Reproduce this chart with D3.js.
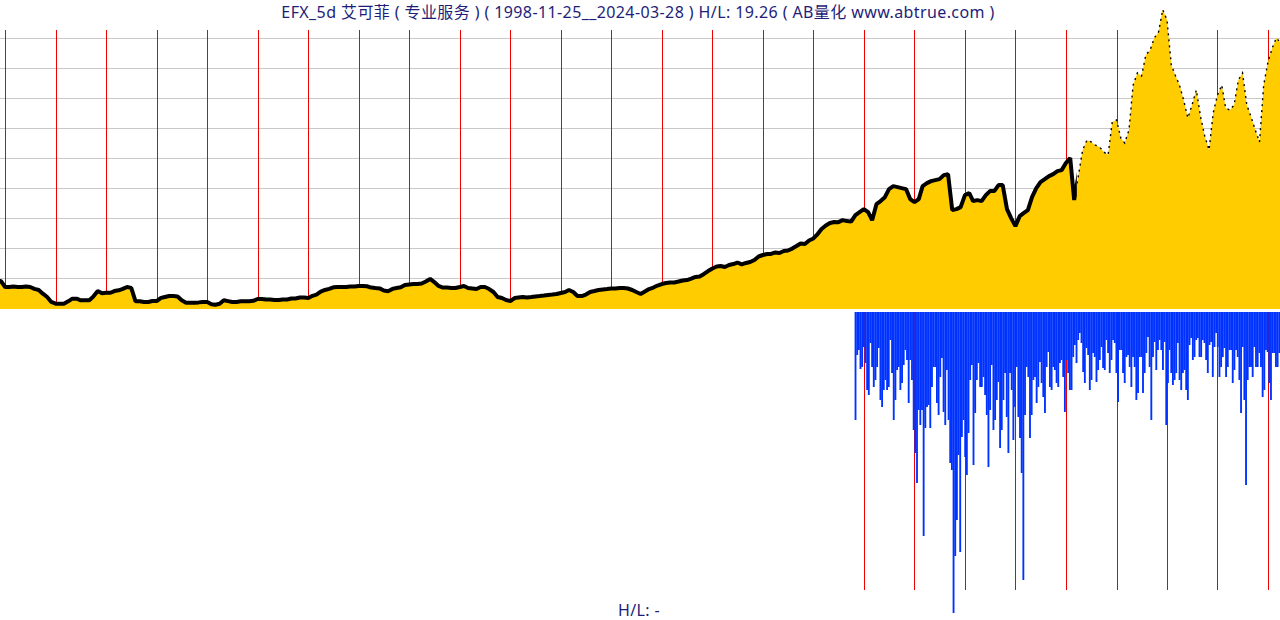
<!DOCTYPE html>
<html>
<head>
<meta charset="utf-8">
<script src="https://cdn.jsdelivr.net/npm/d3@7/dist/d3.min.js"></script>
<style>
  body { margin: 0; background: #fff; }
  svg { display: block; }
</style>
</head>
<body>
<div id="chart"></div>
<script>
// ---------- data ----------
const startDate = "1998-11-25", endDate = "2024-03-28";
const titleText = "EFX_5d 艾可菲 ( 专业服务 ) ( 1998-11-25__2024-03-28 ) H/L: 19.26 ( AB量化  www.abtrue.com )";
const priceLow = 15.5, priceHigh = 298.6;   // H/L = 19.26

// close at start, then month by month from 1998-12
const startClose = 41.0;
const close1999_2003 = [41.0, 35.3, 35.3, 35.8, 35.3, 35.3, 35.8, 35.3, 33.5, 32.5, 29.0, 25.9, 21.2, 19.6, 19.6, 19.6,
  21.8, 24.3, 24.3, 22.8, 22.8, 22.8, 26.5, 31.5, 29.5, 29.9, 29.9, 31.5, 32.2, 33.5, 35.3, 34.5, 21.8, 21.8, 21.2, 21.2,
  22.1, 22.1, 25.0, 25.9, 26.8, 26.8, 26.4, 22.8, 20.5, 20.5, 20.5, 20.8, 21.2, 21.2, 19.0, 18.6, 19.5, 22.8, 22.0, 21.2,
  21.2, 21.8, 21.8, 21.8, 22.3];
const close2004_2008 = [24.0, 24.0, 23.5, 23.5, 23.0, 23.0, 23.5, 23.5, 24.5, 24.5, 25.4, 25.4, 24.9, 27.0, 28.1, 31.0,
  32.5, 33.5, 35.0, 35.3, 35.3, 35.3, 35.8, 35.8, 36.3, 36.3, 36.0, 34.8, 34.4, 34.0, 32.0, 31.3, 33.5, 34.4, 35.0, 37.2,
  37.7, 38.1, 38.1, 38.6, 40.5, 42.9, 40.0, 36.3, 34.8, 34.8, 34.4, 34.4, 35.3, 36.3, 34.4, 33.9, 33.4, 35.3, 35.3, 33.4,
  30.6, 25.9, 24.9, 23.0];
const close2009_2013 = [22.1, 24.9, 25.4, 25.9, 25.4, 25.9, 26.4, 26.8, 27.3, 27.8, 28.2, 28.7, 29.7, 30.6, 32.5, 30.6,
  26.8, 26.8, 28.2, 30.6, 31.5, 32.5, 33.0, 33.4, 33.9, 33.9, 34.4, 34.4, 33.9, 32.5, 30.6, 28.7, 31.1, 33.4, 34.8, 36.7,
  38.1, 39.1, 39.6, 39.6, 40.5, 41.5, 41.9, 43.3, 44.8, 45.2, 47.6, 50.4, 52.8, 54.7, 55.1, 54.2, 56.1, 57.0, 58.4, 56.6,
  58.0, 58.9, 60.8, 64.1];
const close2014_2018 = [65.5, 66.5, 66.5, 67.9, 67.4, 69.3, 69.8, 71.6, 74.0, 76.4, 75.9, 79.2, 81.1, 85.3, 90.1, 93.4,
  95.7, 96.7, 96.5, 98.4, 97.5, 97.0, 103.2, 106.0, 108.8, 106.0, 98.4, 113.5, 116.4, 120.1, 127.7, 130.5, 129.6, 128.6,
  127.7, 118.3, 115.4, 118.3, 130.5, 133.3, 135.2, 136.2, 137.1, 140.9, 141.8, 107.9, 108.8, 110.7, 122.0, 123.9, 116.4,
  117.3, 116.4, 122.0, 125.8, 125.8, 131.5, 131.5, 108.8, 100.3];
const close2019_2024 = [92.8, 102.2, 105.0, 107.9, 120.1, 128.6, 134.3, 137.1, 140.0, 141.8, 144.7, 145.6, 152.3, 157.1,
  117.4, 141.0, 164.6, 174.0, 172.2, 169.3, 167.4, 162.7, 159.9, 191.0, 192.9, 175.9, 171.2, 183.5, 225.9, 237.3, 234.4,
  254.3, 259.0, 270.3, 276.0, 297.0, 287.3, 244.8, 235.4, 225.9, 211.8, 194.8, 207.1, 221.2, 195.7, 177.8, 164.6, 199.5,
  216.5, 225.9, 204.2, 202.3, 207.1, 230.7, 237.3, 207.1, 195.7, 183.5, 172.2, 225.9, 247.6, 260.9, 270.3];
const lastClose = 266.5;

// lower panel bars (depth below panel top), from late 2015 to the end
const lowerStart = "2015-10-26";
const lower2015_2019 = [108, 43, 38, 57, 55, 35, 51, 78, 83, 31, 55, 75, 68, 55, 36, 88, 95, 78, 68, 78, 75, 28, 61, 108,
  88, 58, 55, 78, 71, 53, 38, 48, 91, 48, 68, 118, 141, 171, 98, 113, 98, 224, 116, 95, 93, 116, 75, 55, 55, 91, 103, 65,
  46, 100, 113, 58, 108, 151, 158, 301, 244, 208, 143, 240, 125, 108, 145, 163, 121, 68, 53, 153, 101, 68, 51, 75, 75, 65,
  83, 103, 155, 98, 53, 118, 108, 88, 70, 136, 118, 88, 61, 105, 141, 61, 78, 128, 95, 55, 105, 126, 161, 268, 103, 55,
  65, 126, 103, 68, 65, 91, 75, 50, 71, 85, 101, 55, 40, 75, 78, 55, 58, 71, 75, 51, 48, 65];
const lower2020_2024 = [100, 48, 61, 78, 78, 45, 33, 51, 28, 21, 31, 60, 71, 36, 43, 78, 68, 41, 45, 70, 58, 48, 35, 56,
  58, 28, 41, 61, 48, 28, 31, 61, 90, 38, 38, 61, 71, 45, 43, 55, 75, 45, 55, 88, 81, 45, 45, 81, 61, 41, 25, 55, 108, 45,
  30, 58, 38, 28, 38, 58, 30, 113, 71, 38, 61, 73, 68, 61, 31, 68, 78, 61, 58, 78, 88, 33, 26, 48, 45, 28, 26, 45, 45, 28,
  31, 48, 61, 33, 30, 65, 35, 21, 35, 65, 55, 45, 36, 65, 55, 38, 38, 71, 58, 38, 45, 68, 101, 35, 88, 173, 68, 55, 55, 65,
  35, 55, 55, 41, 55, 85, 78, 38, 40, 71, 88, 41, 41, 55, 55, 41];
const lowerMax = 300;

// ---------- canvas ----------
const W = 1280, H = 620;
const svg = d3.select("#chart").append("svg")
  .attr("width", W).attr("height", H);

const parse = d3.timeParse("%Y-%m-%d");
const t0 = parse(startDate), t1 = parse(endDate);

// build the price series
const monthly = [].concat(close1999_2003, close2004_2008, close2009_2013, close2014_2018, close2019_2024);
const prices = [{date: t0, v: startClose}];
monthly.forEach((v, i) => prices.push({date: d3.timeMonth.offset(new Date(1998, 11, 1), i), v: v}));
prices.push({date: t1, v: lastClose});

const x = d3.scaleTime().domain([t0, t1]).range([0, W]);
const y = d3.scaleLinear().domain([priceLow, priceHigh]).range([308, 8]);

// grid lines (ten equal steps of the price range)
const gridVals = d3.range(1, 10).map(k => priceLow + k * (priceHigh - priceLow) / 10);
svg.append("g").selectAll("line")
  .data(gridVals).enter().append("line")
  .attr("x1", 0).attr("x2", W)
  .attr("y1", d => Math.round(y(d)) + 0.5).attr("y2", d => Math.round(y(d)) + 0.5)
  .attr("stroke", "#c8c8c8").attr("stroke-width", 1);

// year lines, top panel
const years = d3.timeYear.range(d3.timeYear.ceil(t0), t1);
svg.append("g").selectAll("line")
  .data(years).enter().append("line")
  .attr("x1", d => Math.round(x(d)) + 0.5).attr("x2", d => Math.round(x(d)) + 0.5)
  .attr("y1", 30).attr("y2", 308)
  .attr("stroke", "#ee0000").attr("stroke-width", 1);

// price area + line
const area = d3.area()
  .x(d => x(d.date)).y0(309).y1(d => y(d.v));
svg.append("path").datum(prices)
  .attr("d", area).attr("fill", "#ffcc00");

const line = d3.line()
  .x(d => x(d.date)).y(d => y(d.v));

// heavy band until 2020, sparse marks afterwards
const split = x(parse("2020-03-20"));
const defs = svg.append("defs");
defs.append("clipPath").attr("id", "leftClip")
  .append("rect").attr("x", 0).attr("y", 0).attr("width", split).attr("height", 320);
defs.append("clipPath").attr("id", "rightClip")
  .append("rect").attr("x", split).attr("y", 0).attr("width", W - split).attr("height", 320);

svg.append("path").datum(prices)
  .attr("d", line).attr("fill", "none")
  .attr("clip-path", "url(#leftClip)")
  .attr("stroke", "#000").attr("stroke-width", 4)
  .attr("stroke-linejoin", "bevel");
svg.append("path").datum(prices)
  .attr("d", line).attr("fill", "none")
  .attr("clip-path", "url(#rightClip)")
  .attr("stroke", "#000").attr("stroke-width", 1.4)
  .attr("stroke-dasharray", "2,4");

// ---------- lower panel ----------
const lower = [].concat(lower2015_2019, lower2020_2024);
const ls = parse(lowerStart);
const xb = d3.scaleBand().domain(d3.range(lower.length)).range([x(ls), W]).padding(0);
const yb = d3.scaleLinear().domain([0, lowerMax]).range([312, 612]);

svg.append("g").selectAll("line")
  .data(years.filter(d => d > ls)).enter().append("line")
  .attr("x1", d => Math.round(x(d)) + 0.5).attr("x2", d => Math.round(x(d)) + 0.5)
  .attr("y1", 312).attr("y2", 590)
  .attr("stroke", "#ee0000").attr("stroke-width", 1);

svg.append("g").selectAll("rect")
  .data(lower).enter().append("rect")
  .attr("x", (d, i) => xb(i))
  .attr("y", yb(0))
  .attr("width", xb.bandwidth() + 0.2)
  .attr("height", d => yb(d) - yb(0))
  .attr("fill", "#0033ff");

// ---------- texts ----------
svg.append("text")
  .attr("x", 638).attr("y", 18)
  .attr("text-anchor", "middle")
  .style("font-family", "'Noto Sans', 'Noto Sans CJK SC', sans-serif")
  .style("font-size", "16px")
  .style("letter-spacing", "0.4px")
  .style("fill", "#1e1e78")
  .text(titleText);

svg.append("text")
  .attr("x", 639).attr("y", 616)
  .attr("text-anchor", "middle")
  .style("font-family", "'Noto Sans', 'Noto Sans CJK SC', sans-serif")
  .style("font-size", "16px")
  .style("letter-spacing", "0.4px")
  .style("fill", "#1e1e78")
  .text("H/L: -");
</script>
</body>
</html>
